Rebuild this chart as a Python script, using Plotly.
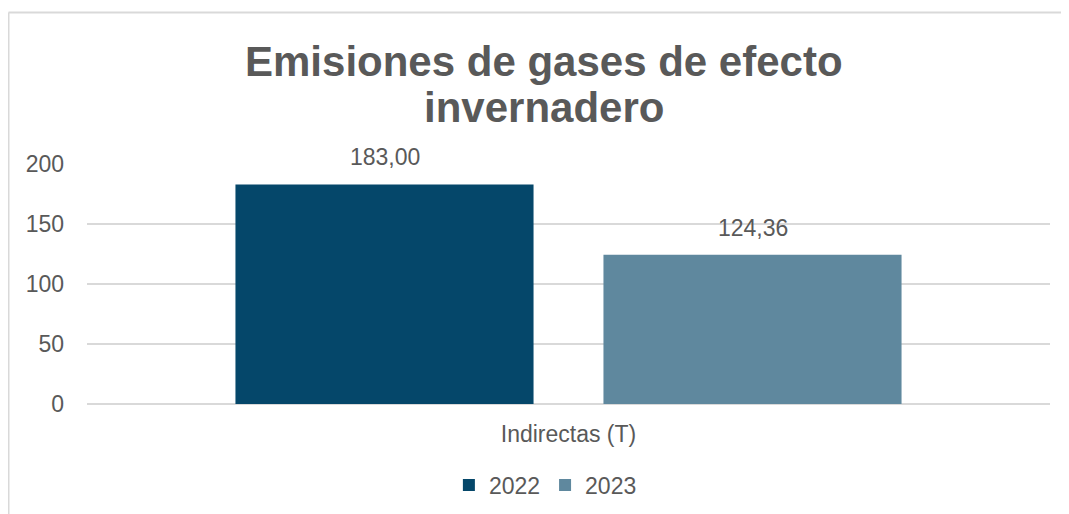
import plotly.graph_objects as go

# data
category = ["Indirectas (T)"]
years = ["2022", "2023"]
values = [183.00, 124.36]
colors = ["#05476A", "#5F889E"]
y_ticks = [0, 50, 100, 150, 200]
title_lines = ["Emisiones de gases de efecto", "invernadero"]

FONT = "Liberation Sans, Arial, sans-serif"
GRAY = "#595959"

fig = go.Figure()
for year, val, col in zip(years, values, colors):
    fig.add_trace(
        go.Bar(
            x=category,
            y=[val],
            name=year,
            marker=dict(color=col, line=dict(width=0)),
        )
    )

# value labels above each bar (Spanish decimal comma)
shifts = [-184, 184]
for val, dx in zip(values, shifts):
    fig.add_annotation(
        x=category[0], y=val, xref="x", yref="y",
        text=f"{val:.2f}".replace(".", ","),
        showarrow=False, xshift=dx, yshift=12, yanchor="bottom",
        font=dict(family=FONT, size=23, color=GRAY),
    )

# two-line title, tighter line spacing than plotly's default
for line, ty in zip(title_lines, [1.427, 1.235]):
    fig.add_annotation(
        x=0.4746, y=ty, xref="paper", yref="paper",
        text=f"<b>{line}</b>", showarrow=False,
        xanchor="center", yanchor="middle",
        font=dict(family=FONT, size=42, color=GRAY),
    )

# light frame on the left and top like the original chart area
fig.add_shape(type="line", xref="paper", yref="paper",
              x0=-0.0815, x1=-0.0815, y0=1.631, y1=-0.5,
              line=dict(color="#D9D9D9", width=2))
fig.add_shape(type="line", xref="paper", yref="paper",
              x0=-0.0815, x1=1.03, y0=1.631, y1=1.631,
              line=dict(color="#D9D9D9", width=2))

fig.update_layout(
    width=1061,
    height=506,
    margin=dict(l=79, r=19, t=156, b=110, autoexpand=False),
    paper_bgcolor="white",
    plot_bgcolor="white",
    font=dict(family=FONT, size=23, color=GRAY),
    barmode="group",
    bargap=0.2357,
    bargroupgap=0.19,
    showlegend=True,
    legend=dict(
        orientation="h",
        x=0.476, xanchor="center",
        y=-0.3375, yanchor="middle",
        font=dict(family=FONT, size=23, color=GRAY),
        itemclick=False,
    ),
    xaxis=dict(
        showgrid=False, showline=False, ticks="",
        ticklabelstandoff=14,
        tickfont=dict(family=FONT, size=23, color=GRAY),
    ),
    yaxis=dict(
        range=[0, 200],
        tickvals=y_ticks,
        showgrid=True, gridcolor="#D9D9D9", gridwidth=2,
        zeroline=True, zerolinecolor="#D9D9D9", zerolinewidth=2,
        showline=False, ticks="",
        ticklabelstandoff=22,
        tickfont=dict(family=FONT, size=23, color=GRAY),
    ),
)

fig.write_html("out.html")
